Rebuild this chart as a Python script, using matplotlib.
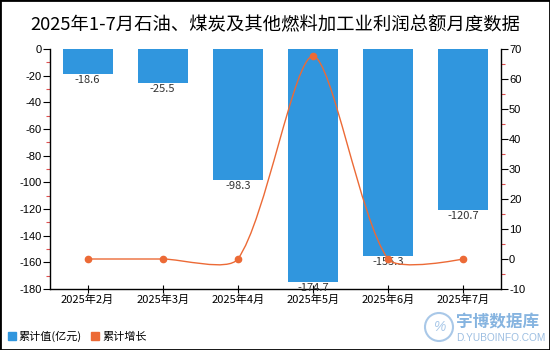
import matplotlib
matplotlib.use('Agg')
import matplotlib.pyplot as plt
from matplotlib.path import Path
from matplotlib.patches import PathPatch, Rectangle, Circle, Patch
from matplotlib.ticker import MultipleLocator, FuncFormatter
import numpy as np

title = '2025年1-7月石油、煤炭及其他燃料加工业利润总额月度数据'
months = ['2025年2月', '2025年3月', '2025年4月', '2025年5月', '2025年6月', '2025年7月']
cum_values = [-18.6, -25.5, -98.3, -174.7, -155.3, -120.7]
cum_growth = [0, 0, 0, 67.6, 0, 0]
legend_labels = ['累计值(亿元)', '累计增长']

BLUE = '#3096de'
ORANGE = '#ec6a36'
CJK = ['Noto Sans CJK SC', 'DejaVu Sans']
plt.rcParams['font.family'] = ['Liberation Sans', 'Noto Sans CJK SC', 'DejaVu Sans']
plt.rcParams['axes.unicode_minus'] = False

W, H = 550, 350
fig = plt.figure(figsize=(W / 100, H / 100), dpi=100)
ax = fig.add_axes([50 / W, 61 / H, 450.7 / W, 240 / H])
x = np.arange(len(months))

ax.bar(x, cum_values, width=0.667, color=BLUE, zorder=2)
ax.set_xlim(-0.5, len(months) - 0.5)
ax.set_ylim(-180, 0)
for xi, v in zip(x, cum_values):
    ax.annotate(f'{v}', (xi, v), xytext=(0, -1), textcoords='offset points',
                ha='center', va='top', fontsize=8, color='#333333', family=CJK, zorder=3)

ax.set_xticks(x)
ax.set_xticklabels(months, fontsize=8, family=CJK)
ax.tick_params(axis='x', direction='inout', length=6, width=0.8, pad=1, colors='black')
ax.yaxis.set_major_locator(MultipleLocator(20))
ax.yaxis.set_minor_locator(MultipleLocator(10))
ax.yaxis.set_major_formatter(FuncFormatter(lambda v, p: f'{int(round(v))}'))
ax.tick_params(axis='y', which='major', direction='out', length=5, width=0.8, labelsize=8, pad=1)
ax.tick_params(axis='y', which='minor', direction='out', length=3, width=0.8, color='#e05050')
for s in ['top', 'right']:
    ax.spines[s].set_visible(False)
for s in ['left', 'bottom']:
    ax.spines[s].set_linewidth(1.0)

ax2 = ax.twinx()
ax2.set_ylim(-10, 70)
ax2.yaxis.set_major_locator(MultipleLocator(10))
ax2.yaxis.set_minor_locator(MultipleLocator(5))
ax2.yaxis.set_major_formatter(FuncFormatter(lambda v, p: f'{int(round(v))}'))
ax2.tick_params(axis='y', which='major', direction='out', length=5, width=0.8, labelsize=8, pad=1)
ax2.tick_params(axis='y', which='minor', direction='out', length=3, width=0.8, color='#e05050')
for s in ['top', 'left', 'bottom']:
    ax2.spines[s].set_visible(False)
ax2.spines['right'].set_linewidth(1.0)

# smooth curve through the points, built in display space
pts = ax2.transData.transform(np.column_stack([x, cum_growth]))
n = len(pts)
smooth = 0.25
cpl, cpr = [], []
for i in range(n):
    prev = pts[i - 1] if i > 0 else pts[i]
    nxt = pts[i + 1] if i < n - 1 else pts[i]
    v = nxt - prev
    d0 = np.hypot(*(pts[i] - prev))
    d1 = np.hypot(*(nxt - pts[i]))
    s = d0 + d1
    if s == 0 or i == 0 or i == n - 1:
        cpl.append(pts[i]); cpr.append(pts[i])
    else:
        cpl.append(pts[i] - v * smooth * d0 / s)
        cpr.append(pts[i] + v * smooth * d1 / s)
verts = [pts[0]]
codes = [Path.MOVETO]
for i in range(n - 1):
    verts += [cpr[i], cpl[i + 1], pts[i + 1]]
    codes += [Path.CURVE4] * 3
inv = ax2.transData.inverted()
verts_data = inv.transform(np.array(verts))
ax2.add_patch(PathPatch(Path(verts_data, codes), fill=False, edgecolor=ORANGE, lw=1.0, zorder=4))
ax2.plot(x, cum_growth, 'o', color=ORANGE, ms=4.5, zorder=5)

fig.text(0.5, 1 - 25 / H, title, ha='center', va='center', fontsize=13.2, family=CJK)

handles = [Patch(color=BLUE), Patch(color=ORANGE)]
fig.legend(handles, legend_labels, loc='lower left', bbox_to_anchor=(0.0, 0.0), ncol=2,
           frameon=False, handlelength=0.7, handleheight=0.7, borderaxespad=0.3,
           handletextpad=0.3, columnspacing=0.8, prop={'family': CJK, 'size': 8})

# watermark
fig.add_artist(Circle((4.39, 0.23), 0.14, transform=fig.dpi_scale_trans, fill=False,
                      edgecolor='#a9c8e8', lw=1.5))
fig.text(439 / W, 23 / H, '%', ha='center', va='center', fontsize=10, color='#a9c8e8', style='italic')
fig.text(456 / W, (H - 322) / H, '宇博数据库', ha='left', va='center', fontsize=12,
         color='#86b4e0', family=CJK, weight='bold')
fig.text(456 / W, (H - 338) / H, 'D.YUBOINFO.COM', ha='left', va='center', fontsize=7.3,
         color='#9dbfe2')

fig.add_artist(Rectangle((0, 0), 1, 1, transform=fig.transFigure, fill=False,
                         edgecolor='black', lw=2))

fig.savefig('out.png', dpi=100)
